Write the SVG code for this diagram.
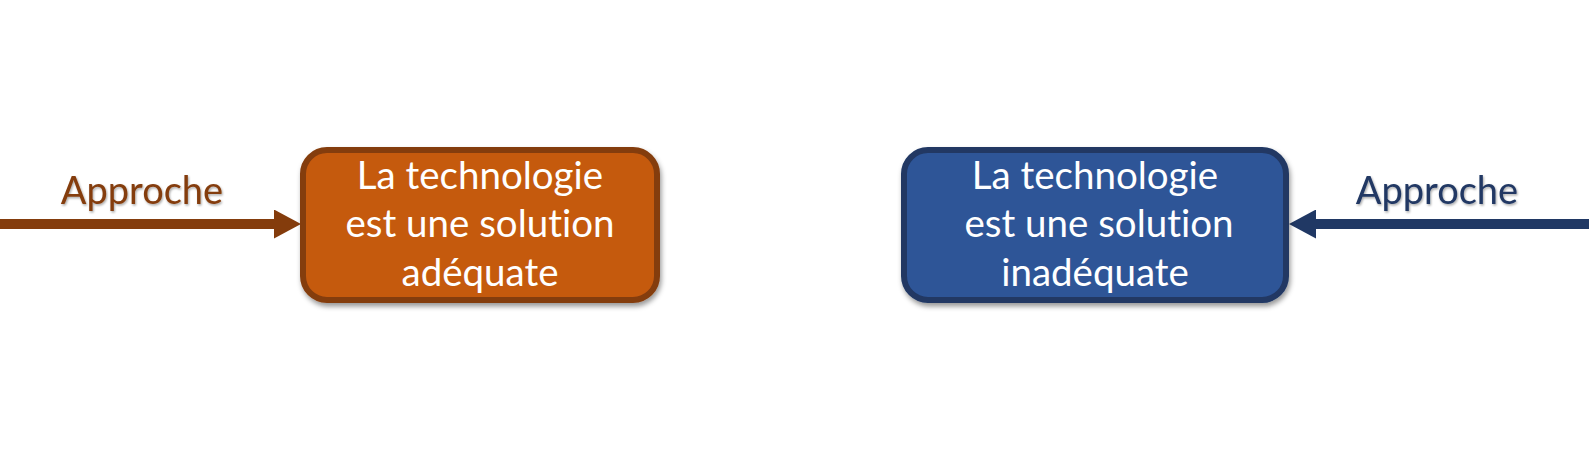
<svg xmlns="http://www.w3.org/2000/svg" width="1595" height="458" viewBox="0 0 1595 458">
<style>
.box-text{font-family:Lato,"Open Sans",sans-serif;font-size:38.5px;fill:#FFFFFF;text-anchor:middle;font-variant-ligatures:none}
.lbl{font-family:Lato,"Open Sans",sans-serif;font-size:38px;text-anchor:middle;font-variant-ligatures:none}
</style>
<defs>
<filter id="sh" x="-10%" y="-10%" width="125%" height="130%">
<feDropShadow dx="1.5" dy="3.5" stdDeviation="2.5" flood-color="#000" flood-opacity="0.4"/>
</filter>
<filter id="tsh" x="-10%" y="-20%" width="120%" height="150%">
<feDropShadow dx="1" dy="1.5" stdDeviation="0.8" flood-color="#000" flood-opacity="0.35"/>
</filter>
<marker id="arrBrown" viewBox="0 0 27 29" refX="0" refY="14.5" markerWidth="27" markerHeight="29" markerUnits="userSpaceOnUse" orient="auto">
<path d="M0,0 L27,14.5 L0,29 Z" fill="#843C0C"/>
</marker>
<marker id="arrBlue" viewBox="0 0 27 29" refX="0" refY="14.5" markerWidth="27" markerHeight="29" markerUnits="userSpaceOnUse" orient="auto">
<path d="M0,0 L27,14.5 L0,29 Z" fill="#203864"/>
</marker>
</defs>
<g id="connectors">
<line x1="0" y1="224" x2="274" y2="224" stroke="#843C0C" stroke-width="10" marker-end="url(#arrBrown)"/>
<line x1="1589" y1="224" x2="1316" y2="224" stroke="#203864" stroke-width="10" marker-end="url(#arrBlue)"/>
<text class="lbl" x="142" y="204" fill="#843C0C" filter="url(#tsh)">Approche</text>
<text class="lbl" x="1437" y="204" fill="#203864" filter="url(#tsh)">Approche</text>
</g>
<g id="node-adequate">
<rect x="303" y="150" width="354" height="150" rx="24" ry="24" fill="#C55A11" stroke="#843C0C" stroke-width="6" filter="url(#sh)"/>
<text class="box-text" x="480" y="189">La technologie</text>
<text class="box-text" x="480" y="237">est une solution</text>
<text class="box-text" x="480" y="286">adéquate</text>
</g>
<g id="node-inadequate">
<rect x="904" y="150" width="382" height="150" rx="24" ry="24" fill="#2F5597" stroke="#203864" stroke-width="6" filter="url(#sh)"/>
<text class="box-text" x="1095" y="189">La technologie</text>
<text class="box-text" x="1099" y="237">est une solution</text>
<text class="box-text" x="1095" y="286">inadéquate</text>
</g>
</svg>
